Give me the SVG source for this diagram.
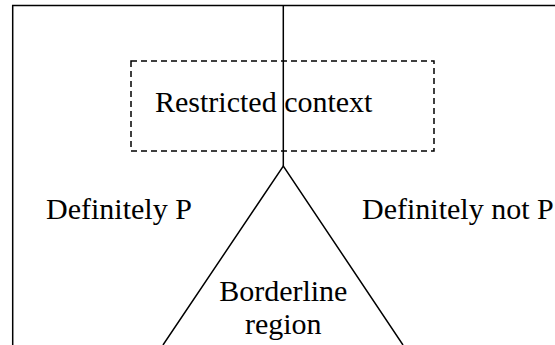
<svg xmlns="http://www.w3.org/2000/svg" width="555" height="345" viewBox="0 0 555 345">
<style>
.t{font-family:"Liberation Serif","Times New Roman",serif;font-size:30px;fill:#000}
.ln{fill:none;stroke:#000;stroke-width:1.5}
</style>
<rect width="555" height="345" fill="#fff"/>
<g id="frame"><path class="ln" d="M12.7,345 V5.5 H555" stroke-width="2"/></g>
<g id="connectors">
<path class="ln" d="M283.3,5.5 V166"/>
<path class="ln" d="M163,345 L283.3,166 L403,345"/>
</g>
<g id="restricted-context">
<rect x="131" y="61" width="303" height="90" fill="none" stroke="#000" stroke-width="1.5" stroke-dasharray="6,4"/>
<text class="t" x="155" y="112">Restricted context</text>
</g>
<g id="definitely-p"><text class="t" x="46" y="219">Definitely P</text></g>
<g id="definitely-not-p"><text class="t" x="362" y="219">Definitely not P</text></g>
<g id="borderline"><text class="t" x="283.3" y="301" text-anchor="middle">Borderline</text><text class="t" x="283.3" y="334" text-anchor="middle">region</text></g>
</svg>
